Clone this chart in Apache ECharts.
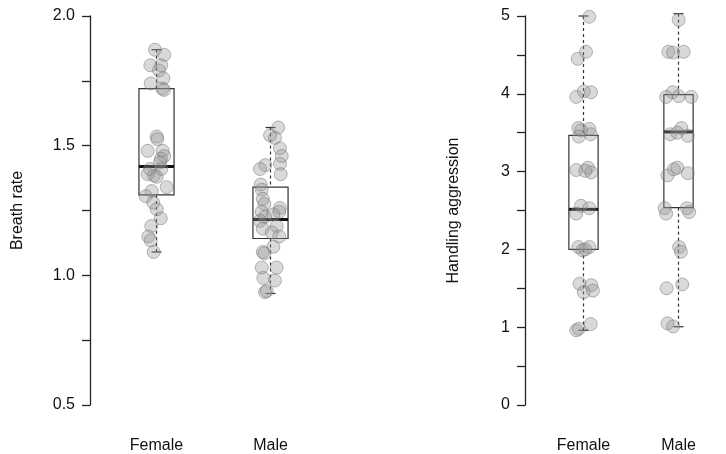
<!DOCTYPE html>
<html>
<head>
<meta charset="utf-8">
<script src="https://cdn.jsdelivr.net/npm/echarts@6/dist/echarts.min.js"></script>
<style>
html,body{margin:0;padding:0;background:#fff;}
#chart{width:726px;height:454px;}
</style>
</head>
<body>
<div id="chart"></div>
<script>
// ---------- data ----------
const categories = ['Female', 'Male'];

// Breath rate: box statistics [low whisker, Q1, median, Q3, high whisker]
const breathBoxFemale = [1.09, 1.31, 1.42, 1.72, 1.87];
const breathBoxMale   = [0.93, 1.142, 1.215, 1.34, 1.57];

// Breath rate individual points (values) and their horizontal jitter (category units)
const breathFemaleValues = [1.87,1.85,1.81,1.81,1.79,1.76,1.74,1.72,1.715,1.535,1.525,1.48,1.48,1.46,1.45,1.435,1.41,1.41,1.39,1.385,1.38,1.34,1.325,1.305,1.28,1.255,1.22,1.19,1.15,1.135,1.09];
const breathFemaleJitter = [-0.013,0.068,-0.054,0.042,0.022,0.06,-0.051,0.051,0.066,0.002,0.007,-0.077,0.054,0.068,0.039,0.031,-0.057,0.042,-0.077,-0.022,0.002,0.089,-0.042,-0.095,-0.028,0.002,0.037,-0.046,-0.072,-0.051,-0.025];
const breathMaleValues = [1.57,1.54,1.53,1.49,1.46,1.43,1.425,1.41,1.39,1.35,1.33,1.295,1.275,1.26,1.245,1.235,1.245,1.225,1.21,1.19,1.18,1.165,1.15,1.11,1.09,1.085,1.03,1.03,0.99,0.98,0.935,0.94];
const breathMaleJitter = [0.068,-0.004,0.039,0.083,0.098,0.083,-0.046,-0.092,0.089,-0.086,-0.077,-0.068,-0.054,0.083,-0.077,0.025,0.077,-0.048,-0.092,0.054,-0.068,0.011,0.077,0.025,-0.068,-0.054,-0.077,0.054,-0.063,0.039,-0.048,-0.033];

// Handling aggression: box statistics
const aggrBoxFemale = [0.96, 2.0, 2.515, 3.465, 5.0];
const aggrBoxMale   = [1.006, 2.536, 3.51, 3.99, 5.03];

const aggrFemaleValues = [4.99,4.54,4.45,4.03,4.02,3.96,3.56,3.55,3.53,3.48,3.45,3.02,3.05,3.01,2.99,2.56,2.53,2.46,2.03,2.03,1.99,2.0,1.56,1.54,1.45,1.47,0.96,0.98,1.04];
const aggrFemaleJitter = [0.061,0.026,-0.061,0.003,0.079,-0.076,-0.055,0.061,-0.026,0.076,-0.05,-0.076,0.046,0.018,0.082,-0.026,0.061,-0.076,-0.055,0.061,-0.011,0.018,-0.041,0.082,0.003,0.099,-0.076,-0.05,0.076];
const aggrMaleValues = [5.03,5.03,4.95,4.54,4.53,4.54,4.02,3.96,3.97,3.96,3.48,3.56,3.5,3.46,2.95,3.03,3.05,2.98,2.53,2.46,2.53,2.48,2.03,1.97,1.5,1.55,1.05,1.01];
const aggrMaleJitter = [-0.033,0.06,0.002,-0.107,-0.057,0.055,-0.063,-0.13,0.002,0.134,-0.086,0.031,-0.013,0.098,-0.116,-0.048,-0.013,0.098,-0.145,-0.13,0.089,0.112,0.007,0.025,-0.125,0.039,-0.116,-0.057];

// tick labels
const breathTickLabels = ['0.5', '1.0', '1.5', '2.0'];
const aggrTickLabels = ['0', '1', '2', '3', '4', '5'];

// ---------- build ----------
function pts(values, jitter, catIndex) {
  return values.map((v, i) => [catIndex + jitter[i], v]);
}
function boxRows(boxes) {
  return boxes.map((b, i) => [i].concat(b));
}

const FONT = "'Liberation Sans', Arial, sans-serif";
const AXIS_COLOR = '#222';

function renderBox(params, api) {
  const cat = api.value(0);
  const low = api.coord([cat, api.value(1)]);
  const q1 = api.coord([cat, api.value(2)]);
  const med = api.coord([cat, api.value(3)]);
  const q3 = api.coord([cat, api.value(4)]);
  const high = api.coord([cat, api.value(5)]);
  const band = api.size([1, 0])[0];
  const hw = band * 0.154;
  const cw = 5;
  const x = low[0];
  const lineStyle = { stroke: '#333', lineWidth: 1.2, fill: null };
  const dash = { stroke: '#333', lineWidth: 1.2, lineDash: [3, 3], fill: null };
  return {
    type: 'group',
    children: [
      { type: 'line', shape: { x1: x, y1: high[1], x2: x, y2: q3[1] }, style: dash },
      { type: 'line', shape: { x1: x, y1: q1[1], x2: x, y2: low[1] }, style: dash },
      { type: 'line', shape: { x1: x - cw, y1: high[1], x2: x + cw, y2: high[1] }, style: lineStyle },
      { type: 'line', shape: { x1: x - cw, y1: low[1], x2: x + cw, y2: low[1] }, style: lineStyle },
      { type: 'rect', shape: { x: x - hw, y: q3[1], width: 2 * hw, height: q1[1] - q3[1] }, style: lineStyle },
      { type: 'line', shape: { x1: x - hw, y1: med[1], x2: x + hw, y2: med[1] }, style: { stroke: '#111', lineWidth: 3 } }
    ]
  };
}

function yAxisCfg(grid, name, min, max, interval, labels, offset, nameGap) {
  return {
    type: 'value', gridIndex: grid, min: min, max: max, interval: interval,
    position: 'left', offset: offset,
    name: name, nameLocation: 'middle', nameGap: nameGap,
    nameTextStyle: { fontSize: 16, color: '#111', fontFamily: FONT },
    axisLine: { show: true, onZero: false, lineStyle: { color: AXIS_COLOR, width: 1.3 } },
    axisTick: { show: true, length: 8, lineStyle: { color: AXIS_COLOR, width: 1.3 } },
    axisLabel: {
      fontSize: 16, color: '#111', fontFamily: FONT, margin: 15,
      formatter: function (v) {
        const s1 = (Math.round(v * 100) / 100).toFixed(1);
        const s0 = String(Math.round(v * 100) / 100);
        if (labels.indexOf(s1) >= 0) return s1;
        if (labels.indexOf(s0) >= 0) return s0;
        return '';
      }
    },
    splitLine: { show: false }
  };
}

function catAxisCfg(grid) {
  return {
    type: 'category', gridIndex: grid, data: categories, boundaryGap: true,
    axisLine: { show: false, onZero: false }, axisTick: { show: false },
    axisLabel: { fontSize: 16, color: '#111', fontFamily: FONT, margin: 33 },
    splitLine: { show: false }
  };
}
function jitterAxisCfg(grid) {
  return { type: 'value', gridIndex: grid, min: -0.5, max: 1.5, show: false,
    axisLine: { show: false, onZero: false }, splitLine: { show: false } };
}

const pointStyle = {
  color: 'rgba(150,150,150,0.45)',
  borderColor: 'rgba(110,110,110,0.6)',
  borderWidth: 1
};

const option = {
  animation: false,
  backgroundColor: '#ffffff',
  grid: [
    { left: 99.5, top: 16, width: 228, height: 391 },
    { left: 536, top: 16, width: 227, height: 391 }
  ],
  xAxis: [catAxisCfg(0), jitterAxisCfg(0), catAxisCfg(1), jitterAxisCfg(1)],
  yAxis: [
    yAxisCfg(0, 'Breath rate', 0.5, 2.0, 0.25, breathTickLabels, 9.5, 64),
    yAxisCfg(1, 'Handling aggression', 0, 5, 0.5, aggrTickLabels, 11, 63)
  ],
  series: [
    { type: 'custom', xAxisIndex: 0, yAxisIndex: 0, z: 1, renderItem: renderBox,
      data: boxRows([breathBoxFemale, breathBoxMale]) },
    { type: 'scatter', xAxisIndex: 1, yAxisIndex: 0, z: 3, symbolSize: 13, itemStyle: pointStyle,
      data: pts(breathFemaleValues, breathFemaleJitter, 0).concat(pts(breathMaleValues, breathMaleJitter, 1)) },
    { type: 'custom', xAxisIndex: 2, yAxisIndex: 1, z: 1, renderItem: renderBox,
      data: boxRows([aggrBoxFemale, aggrBoxMale]) },
    { type: 'scatter', xAxisIndex: 3, yAxisIndex: 1, z: 3, symbolSize: 13, itemStyle: pointStyle,
      data: pts(aggrFemaleValues, aggrFemaleJitter, 0).concat(pts(aggrMaleValues, aggrMaleJitter, 1)) }
  ]
};

const chart = echarts.init(document.getElementById('chart'), null, { renderer: 'canvas' });
chart.setOption(option);
</script>
</body>
</html>
